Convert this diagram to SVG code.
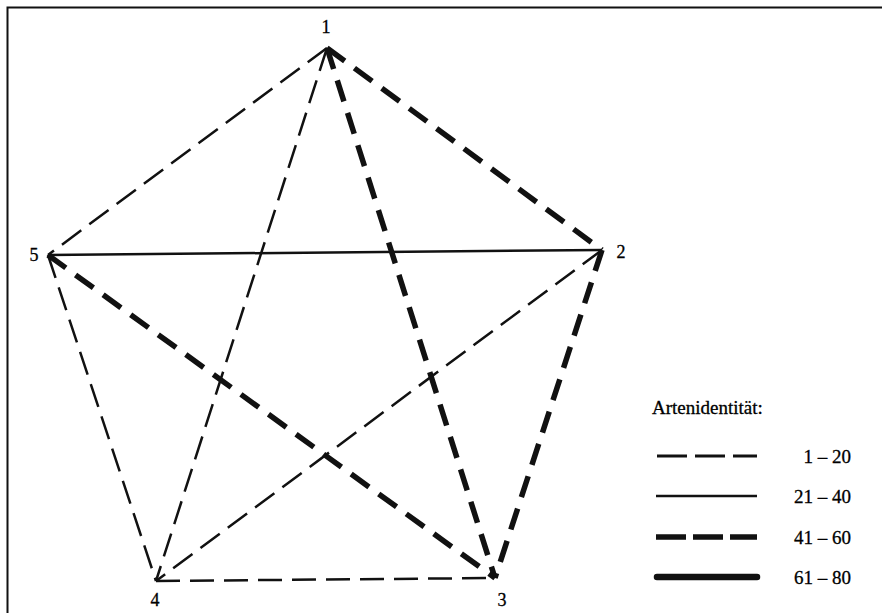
<svg xmlns="http://www.w3.org/2000/svg" width="882" height="613" viewBox="0 0 882 613">
<style>
.t{font-family:"Liberation Serif",serif;fill:#000;stroke:#000;stroke-width:0.3;}
.n{font-size:18px;}
.l{font-size:19px;}
.d1{stroke:#111;stroke-width:2.5;stroke-dasharray:24 10;fill:none;}
.d2{stroke:#111;stroke-width:2.5;fill:none;}
.d3{stroke:#111;stroke-width:5.5;stroke-dasharray:22 12;fill:none;}
.d4{stroke:#111;stroke-width:6.5;fill:none;stroke-linecap:round;}
</style>
<rect x="0" y="0" width="882" height="613" fill="#fff"/>
<path d="M7.5 613 V7.5 H882" stroke="#111" stroke-width="2" fill="none"/>
<g id="connectors">
<line class="d1" x1="327" y1="48" x2="48" y2="255"/>
<line class="d3" x1="327" y1="48" x2="602" y2="250"/>
<line class="d1" x1="327" y1="48" x2="156" y2="581"/>
<line class="d3" x1="327" y1="48" x2="495" y2="578"/>
<line class="d2" x1="48" y1="255" x2="602" y2="250"/>
<line class="d3" x1="48" y1="255" x2="495" y2="578"/>
<line class="d1" x1="48" y1="255" x2="156" y2="581"/>
<line class="d1" x1="602" y1="250" x2="156" y2="581"/>
<line class="d3" x1="602" y1="250" x2="495" y2="578"/>
<line class="d1" x1="156" y1="581" x2="495" y2="578"/>
</g>
<g id="node1"><text class="t n" x="326" y="33" text-anchor="middle">1</text></g>
<g id="node2"><text class="t n" x="621" y="258" text-anchor="middle">2</text></g>
<g id="node3"><text class="t n" x="502" y="606" text-anchor="middle">3</text></g>
<g id="node4"><text class="t n" x="155" y="606" text-anchor="middle">4</text></g>
<g id="node5"><text class="t n" x="34" y="261" text-anchor="middle">5</text></g>
<g id="legend">
<text class="t l" x="652" y="414">Artenidentität:</text>
<line class="d1" x1="657" y1="456" x2="757" y2="456" style="stroke-dasharray:30 8;stroke-width:3"/>
<text class="t l" x="851" y="463" text-anchor="end">1 – 20</text>
<line class="d2" x1="656" y1="496" x2="757" y2="496"/>
<text class="t l" x="851" y="503" text-anchor="end">21 – 40</text>
<line class="d3" x1="656" y1="537" x2="757" y2="537" style="stroke-dasharray:30 7"/>
<text class="t l" x="851" y="544" text-anchor="end">41 – 60</text>
<line class="d4" x1="657" y1="577" x2="757" y2="577"/>
<text class="t l" x="851" y="584" text-anchor="end">61 – 80</text>
</g>
</svg>
